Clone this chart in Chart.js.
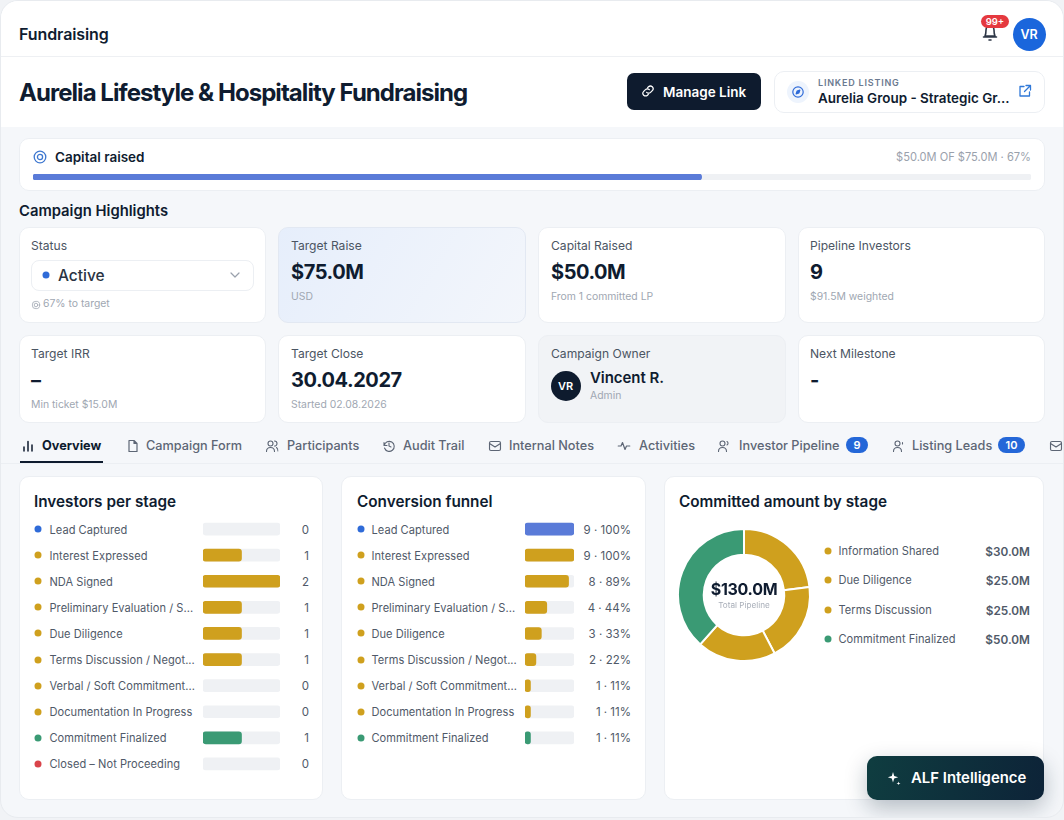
<!DOCTYPE html>
<html><head><meta charset="utf-8"><title>Fundraising</title>
<script src="https://cdn.jsdelivr.net/npm/chart.js@4"></script>
<style>
*{box-sizing:border-box;margin:0;padding:0}
html,body{width:1064px;height:820px;overflow:hidden;background:#f1f3f6;font-family:Inter,"Noto Sans",sans-serif;color:#0f1c30;-webkit-font-smoothing:antialiased}
#frame{position:absolute;left:0;top:0;width:1064px;height:818px;border-radius:18px;background:#f5f7fa;overflow:hidden;border:1px solid #e8ebef}
.a{position:absolute;white-space:nowrap}
.t{position:absolute;white-space:nowrap;transform:translateY(-50%);line-height:1.2}
.r{transform:translate(-100%,-50%)}
.c{transform:translate(-50%,-50%)}
.card{position:absolute;background:#fff;border:1px solid #eceff3;border-radius:10px}
.lab{font-size:12.1px;color:#4b5563;font-weight:400}
.val{font-size:20px;font-weight:700;letter-spacing:-.45px}
.sub{font-size:10.4px;color:#a0a7b2}
.tab{font-size:12.7px;color:#5d6675;font-weight:500}
canvas{position:absolute;display:block}
.dot{position:absolute;width:7px;height:7px;border-radius:50%;transform:translate(-50%,-50%)}
.rowl{font-size:11.05px;color:#4f5968;font-weight:400;letter-spacing:.05px}
.rowv{font-size:11.5px;color:#4f5968}
.h{font-size:15.3px;font-weight:600}
.ic{position:absolute;transform:translate(-50%,-50%);fill:none;stroke:#5d6675;stroke-width:1.6;stroke-linecap:round;stroke-linejoin:round}
.badge{position:absolute;background:#2467d8;color:#fff;border-radius:8px;font-size:11px;font-weight:600;height:16px;line-height:16px;text-align:center}
</style></head><body>
<div id="frame">
<div class="a" style="left:0;top:0;width:1064px;height:126px;background:#fff"></div>
<div class="a" style="left:0;top:55px;width:1064px;height:1px;background:#eef0f3"></div>
<div class="t" style="left:18px;top:33.5px;font-size:16px;font-weight:600;letter-spacing:-.1px">Fundraising</div>
<svg class="ic" style="left:989px;top:31px;stroke:#2c3645" width="20" height="20" viewBox="0 0 20 20"><path d="M5 14c1-2 1-3 1-6a4 4 0 0 1 8 0c0 3 0 4 1 6zM3.5 15h13M9 18h2"/></svg>
<div class="a" style="left:980px;top:14px;width:28px;height:13px;border-radius:7px;background:#e5393f;color:#fff;font-size:9.5px;font-weight:600;line-height:13px;text-align:center">99+</div>
<div class="a" style="left:1011.5px;top:17px;width:33px;height:33px;border-radius:50%;background:#1a66dc;color:#fff;font-size:12.5px;font-weight:600;line-height:33px;text-align:center">VR</div>
<div class="t" style="left:18px;top:91.5px;font-size:24px;font-weight:700;letter-spacing:-.95px">Aurelia Lifestyle &amp; Hospitality Fundraising</div>
<div class="a" style="left:626px;top:72px;width:134px;height:37px;border-radius:7px;background:#0e1b2e"></div>
<svg class="ic" style="left:647px;top:90px;stroke:#fff;stroke-width:1.4" width="14" height="14" viewBox="0 0 16 16"><path d="M6.5 9.5a3 3 0 0 0 4.4 0l2-2a3 3 0 0 0-4.3-4.3l-1 1M9.5 6.5a3 3 0 0 0-4.4 0l-2 2a3 3 0 0 0 4.3 4.3l1-1"/></svg>
<div class="t" style="left:662px;top:90.5px;font-size:13.5px;font-weight:600;color:#fff">Manage Link</div>
<div class="card" style="left:773px;top:70px;width:271px;height:42px"></div>
<div class="a" style="left:786px;top:80px;width:22px;height:22px;border-radius:50%;background:#eef4fd"></div>
<svg class="ic" style="left:797px;top:91px;stroke:#2f6bd8;stroke-width:1.3" width="13" height="13" viewBox="0 0 14 14"><circle cx="7" cy="7" r="5.6"/><path d="M9 5 8 8 5 9 6 6z" fill="#2f6bd8"/></svg>
<div class="t" style="left:817px;top:81.5px;font-size:9px;font-weight:600;letter-spacing:.8px;color:#6b7a90">LINKED LISTING</div>
<div class="t" style="left:817px;top:97px;font-size:13.45px;font-weight:600">Aurelia Group - Strategic Gr...</div>
<svg class="ic" style="left:1024px;top:90px;stroke:#2f78d8;stroke-width:1.3" width="14" height="14" viewBox="0 0 14 14"><path d="M6 2.5H2v9.5h9.5V8M8 1.5h4.5V6M12.500 1.500 6.500 7.500"/></svg>

<div class="card" style="left:18px;top:137px;width:1026px;height:53px"></div>
<svg class="ic" style="left:39px;top:156px;stroke:#3f78d0;stroke-width:1.3" width="14" height="14" viewBox="0 0 14 14"><circle cx="7" cy="7" r="5.800"/><circle cx="7" cy="7" r="2.600"/></svg>
<div class="t" style="left:54px;top:156px;font-size:13.5px;font-weight:600">Capital raised</div>
<div class="t r" style="left:1030px;top:156.5px;font-size:11.1px;color:#9aa1ac">$50.0M OF $75.0M · 67%</div>
<canvas id="progressChart" width="998" height="6" style="left:32px;top:173px"></canvas>
<div class="t" style="left:18px;top:210.5px;font-size:14.8px;font-weight:600">Campaign Highlights</div>

<div class="card" style="left:18px;top:226px;width:247px;height:96px"></div>
<div class="card" style="left:277px;top:226px;width:248px;height:96px;background:linear-gradient(120deg,#e6eefb,#f3f6fb);border-color:#e2e8f2"></div>
<div class="card" style="left:537px;top:226px;width:248px;height:96px"></div>
<div class="card" style="left:797px;top:226px;width:247px;height:96px"></div>
<div class="card" style="left:18px;top:334px;width:247px;height:88px"></div>
<div class="card" style="left:277px;top:334px;width:248px;height:88px"></div>
<div class="card" style="left:537px;top:334px;width:248px;height:88px;background:#f1f3f6"></div>
<div class="card" style="left:797px;top:334px;width:247px;height:88px"></div>

<div class="t lab" style="left:30px;top:244.5px">Status</div>
<div class="a" style="left:30px;top:259px;width:223px;height:31px;border:1px solid #eceff3;border-radius:8px;background:#fff"></div>
<div class="dot" style="left:45px;top:274px;background:#2f6bd8"></div>
<div class="t" style="left:57px;top:274.5px;font-size:15.5px;font-weight:500;color:#2a3443">Active</div>
<svg class="ic" style="left:234px;top:274px;stroke:#9aa1ac;stroke-width:1.2" width="10" height="10" viewBox="0 0 10 10"><path d="M1 3l4 4 4-4"/></svg>
<svg class="ic" style="left:35px;top:304px;stroke:#a0a7b2;stroke-width:.9" width="9" height="9" viewBox="0 0 10 10"><circle cx="5" cy="5" r="4.200"/><circle cx="5" cy="5" r="2"/></svg>
<div class="t sub" style="left:42px;top:303px">67% to target</div>

<div class="t lab" style="left:290px;top:244.5px">Target Raise</div>
<div class="t val" style="left:290px;top:270.5px">$75.0M</div>
<div class="t sub" style="left:290px;top:296px">USD</div>

<div class="t lab" style="left:550px;top:244.5px">Capital Raised</div>
<div class="t val" style="left:550px;top:270.5px">$50.0M</div>
<div class="t sub" style="left:550px;top:296px">From 1 committed LP</div>

<div class="t lab" style="left:809px;top:244.5px">Pipeline Investors</div>
<div class="t val" style="left:809px;top:270.5px">9</div>
<div class="t sub" style="left:809px;top:296px">$91.5M weighted</div>

<div class="t lab" style="left:30px;top:352.500px">Target IRR</div>
<div class="t val" style="left:30px;top:378.5px">–</div>
<div class="t sub" style="left:30px;top:403.5px">Min ticket $15.0M</div>

<div class="t lab" style="left:290px;top:352.500px">Target Close</div>
<div class="t val" style="left:290px;top:378.5px">30.04.2027</div>
<div class="t sub" style="left:290px;top:403.5px">Started 02.08.2026</div>

<div class="t lab" style="left:550px;top:352.500px">Campaign Owner</div>
<div class="a" style="left:549.5px;top:369.5px;width:30px;height:30px;border-radius:50%;background:#0e1b2e;color:#fff;font-size:11px;font-weight:600;line-height:30px;text-align:center">VR</div>
<div class="t" style="left:589px;top:376.5px;font-size:15px;font-weight:600;letter-spacing:-.05px">Vincent R.</div>
<div class="t sub" style="left:589px;top:394.5px">Admin</div>

<div class="t lab" style="left:809px;top:352.500px">Next Milestone</div>
<div class="t val" style="left:809px;top:378.5px">-</div>

<div class="a" style="left:0;top:462px;width:1064px;height:1px;background:#eceff3"></div>
<div class="a" style="left:19px;top:460px;width:83px;height:2px;background:#0e1b2e"></div>
<svg class="ic" style="left:27px;top:444.5px;stroke:#0e1b2e;stroke-width:1.500" width="12" height="12" viewBox="0 0 12 12"><path d="M2 11V7M6 11V1.500M10 11V5"/></svg>
<div class="t tab" style="left:41px;top:445px;color:#0e1b2e;font-weight:700">Overview</div>
<svg class="ic" style="left:132px;top:444.5px;stroke-width:1.200" width="12" height="13" viewBox="0 0 12 13"><path d="M2 1h5l3 3v8H2zM7 1v3h3"/></svg>
<div class="t tab" style="left:145px;top:445px">Campaign Form</div>
<svg class="ic" style="left:271px;top:444.5px;stroke-width:1.100" width="13" height="13" viewBox="0 0 13 13"><circle cx="5" cy="4" r="2.500"/><path d="M1 12c0-3 2-4 4-4s4 1 4 4M9 1.500a2.500 2.500 0 0 1 0 5M11 8c1 .8 1.500 2 1.500 3.500"/></svg>
<div class="t tab" style="left:286px;top:445px">Participants</div>
<svg class="ic" style="left:388px;top:444.5px;stroke-width:1.100" width="13" height="13" viewBox="0 0 13 13"><path d="M1.500 3v3h3M1.800 6A5 5 0 1 1 2 8.500M6.500 3.500v3l2 1"/></svg>
<div class="t tab" style="left:402px;top:445px">Audit Trail</div>
<svg class="ic" style="left:494px;top:444.5px;stroke-width:1.200" width="13" height="11" viewBox="0 0 13 11"><rect x="1" y="1" width="11" height="9" rx="1.500"/><path d="M1 3l5.500 3.500L12 3"/></svg>
<div class="t tab" style="left:508px;top:445px">Internal Notes</div>
<svg class="ic" style="left:623px;top:444.5px;stroke-width:1.200" width="13" height="11" viewBox="0 0 13 11"><path d="M0.500 5.500h3L5 2l2.500 7L9 5.500h3.500"/></svg>
<div class="t tab" style="left:638px;top:445px">Activities</div>
<svg class="ic" style="left:723px;top:444.5px;stroke-width:1.100" width="13" height="13" viewBox="0 0 13 13"><circle cx="5" cy="4" r="2.500"/><path d="M1 12c0-3 2-4 4-4s4 1 4 4M9.500 2a2 2 0 0 1 0 3.500"/></svg>
<div class="t tab" style="left:738px;top:445px">Investor Pipeline</div>
<div class="badge" style="left:845px;top:436px;width:22px">9</div>
<svg class="ic" style="left:898px;top:444.5px;stroke-width:1.100" width="13" height="13" viewBox="0 0 13 13"><circle cx="5" cy="4" r="2.500"/><path d="M1 12c0-3 2-4 4-4s4 1 4 4M10 3v1.500"/></svg>
<div class="t tab" style="left:911px;top:445px">Listing Leads</div>
<div class="badge" style="left:997px;top:436px;width:27px">10</div>
<svg class="ic" style="left:1055px;top:444.5px;stroke-width:1.200" width="13" height="11" viewBox="0 0 13 11"><rect x="1" y="1" width="11" height="9" rx="1.500"/><path d="M1 3l5.500 3.500L12 3"/></svg>

<div class="card" style="left:18px;top:475px;width:304px;height:324px"></div>
<div class="card" style="left:340px;top:475px;width:305px;height:324px"></div>
<div class="card" style="left:663px;top:475px;width:380px;height:324px"></div>
<div class="t h" style="left:33px;top:500.5px">Investors per stage</div>
<div class="t h" style="left:356px;top:500.5px">Conversion funnel</div>
<div class="t h" style="left:678px;top:500.5px">Committed amount by stage</div>
<div id="rows"></div>
<canvas id="investorChart" width="77" height="261" style="left:202px;top:515px"></canvas>
<canvas id="funnelChart" width="49" height="235" style="left:524px;top:515px"></canvas>
<canvas id="committedChart" width="140" height="140" style="left:673px;top:524px"></canvas>
<div class="t c" style="left:743px;top:589px;font-size:16px;font-weight:700;letter-spacing:-.3px">$130.0M</div>
<div class="t c" style="left:743px;top:605px;font-size:8.2px;color:#a9afb9">Total Pipeline</div>

<div class="a" style="left:866px;top:755px;width:177px;height:44px;border-radius:10px;background:linear-gradient(100deg,#0f3d40,#0d2338);box-shadow:0 8px 22px rgba(15,35,55,.28)"></div>
<svg class="ic" style="left:893px;top:777px;fill:#fff;stroke:none" width="14" height="14" viewBox="0 0 14 14"><path d="M6 1l1.200 4 4 1.200-4 1.200L6 11.500 4.800 7.400l-4-1.200 4-1.200zM11.500 10.500l.5 1.500 1.500.5-1.500.5-.5 1-.5-1-1.500-.5 1.500-.5z"/></svg>
<div class="t" style="left:910px;top:777.5px;font-size:14.9px;font-weight:600;color:#fff">ALF Intelligence</div>
</div>
<script>
const BLUE='#2f6bd8', PERI='#5a7bd8', GOLD='#cfa01e', GREEN='#3a9a74', RED='#d9444a', TRACK='#eff1f4';

const investorStages=['Lead Captured','Interest Expressed','NDA Signed','Preliminary Evaluation / S...','Due Diligence','Terms Discussion / Negot...','Verbal / Soft Commitment...','Documentation In Progress','Commitment Finalized','Closed – Not Proceeding'];
const investorCounts=[0,1,2,1,1,1,0,0,1,0];
const investorDots=[BLUE,GOLD,GOLD,GOLD,GOLD,GOLD,GOLD,GOLD,GREEN,RED];
const investorBars=[PERI,GOLD,GOLD,GOLD,GOLD,GOLD,GOLD,GOLD,GREEN,RED];

const funnelStages=['Lead Captured','Interest Expressed','NDA Signed','Preliminary Evaluation / S...','Due Diligence','Terms Discussion / Negot...','Verbal / Soft Commitment...','Documentation In Progress','Commitment Finalized'];
const funnelCounts=[9,9,8,4,3,2,1,1,1];
const funnelPercents=[100,100,89,44,33,22,11,11,11];
const funnelDots=[BLUE,GOLD,GOLD,GOLD,GOLD,GOLD,GOLD,GOLD,GREEN];
const funnelBars=[PERI,GOLD,GOLD,GOLD,GOLD,GOLD,GOLD,GOLD,GREEN];

const committedStages=['Information Shared','Due Diligence','Terms Discussion','Commitment Finalized'];
const committedAmounts=[30,25,25,50];
const committedColors=[GOLD,GOLD,GOLD,GREEN];

const progressLabels=['Capital raised'];
const progressPercent=[67];

Chart.defaults.animation=false;
Chart.defaults.responsive=false;
Chart.defaults.maintainAspectRatio=false;
Chart.defaults.font.family='Inter';

function hbar(id,labels,values,colors,max,thick,rad){
  return new Chart(document.getElementById(id),{type:'bar',data:{labels:labels,datasets:[
    {data:values,backgroundColor:c=>c.raw===0?'rgba(0,0,0,0)':colors[c.dataIndex],barThickness:thick,borderRadius:rad,borderSkipped:false,grouped:false,order:1},
    {data:labels.map(()=>max),backgroundColor:TRACK,barThickness:thick,borderRadius:rad,borderSkipped:false,grouped:false,order:2}
  ]},options:{indexAxis:'y',layout:{padding:0},plugins:{legend:{display:false},tooltip:{enabled:false}},
    scales:{x:{display:false,min:0,max:max},y:{display:false}}}});
}
hbar('investorChart',investorStages,investorCounts,investorBars,2,12,3);
hbar('funnelChart',funnelStages,funnelCounts,funnelBars,9,12,3);
hbar('progressChart',progressLabels,progressPercent,[PERI],100,6,3);

new Chart(document.getElementById('committedChart'),{type:'doughnut',data:{labels:committedStages,datasets:[
  {data:committedAmounts,backgroundColor:committedColors,borderColor:'#fff',borderWidth:2}]},
  options:{cutout:'61%',radius:66,layout:{padding:0},plugins:{legend:{display:false},tooltip:{enabled:false}}}});

const rows=document.getElementById('rows');
function text(cls,x,y,s,extra){const d=document.createElement('div');d.className='t '+cls;d.style.left=x+'px';d.style.top=y+'px';d.textContent=s;if(extra)d.style.cssText+=extra;rows.appendChild(d);}
function dot(x,y,c){const d=document.createElement('div');d.className='dot';d.style.left=x+'px';d.style.top=y+'px';d.style.background=c;rows.appendChild(d);}
investorStages.forEach((s,i)=>{const y=528+26.1*i;dot(36.5,y,investorDots[i]);text('rowl',48.5,y+1.5,s);text('rowv r',308,y+1.5,String(investorCounts[i]));});
funnelStages.forEach((s,i)=>{const y=528+26.1*i;dot(359.5,y,funnelDots[i]);text('rowl',370.5,y+1.5,s);text('rowv r',630,y+1.5,funnelCounts[i]+' · '+funnelPercents[i]+'%');});
const legY=[550,579,609,638];
committedStages.forEach((s,i)=>{dot(826.5,legY[i],committedColors[i]);text('rowl',837.5,legY[i]+.5,s);text('rowv r',1029,legY[i]+.5,'$'+committedAmounts[i].toFixed(1)+'M','font-weight:600;font-size:11.8px');});
</script>
</body></html>
